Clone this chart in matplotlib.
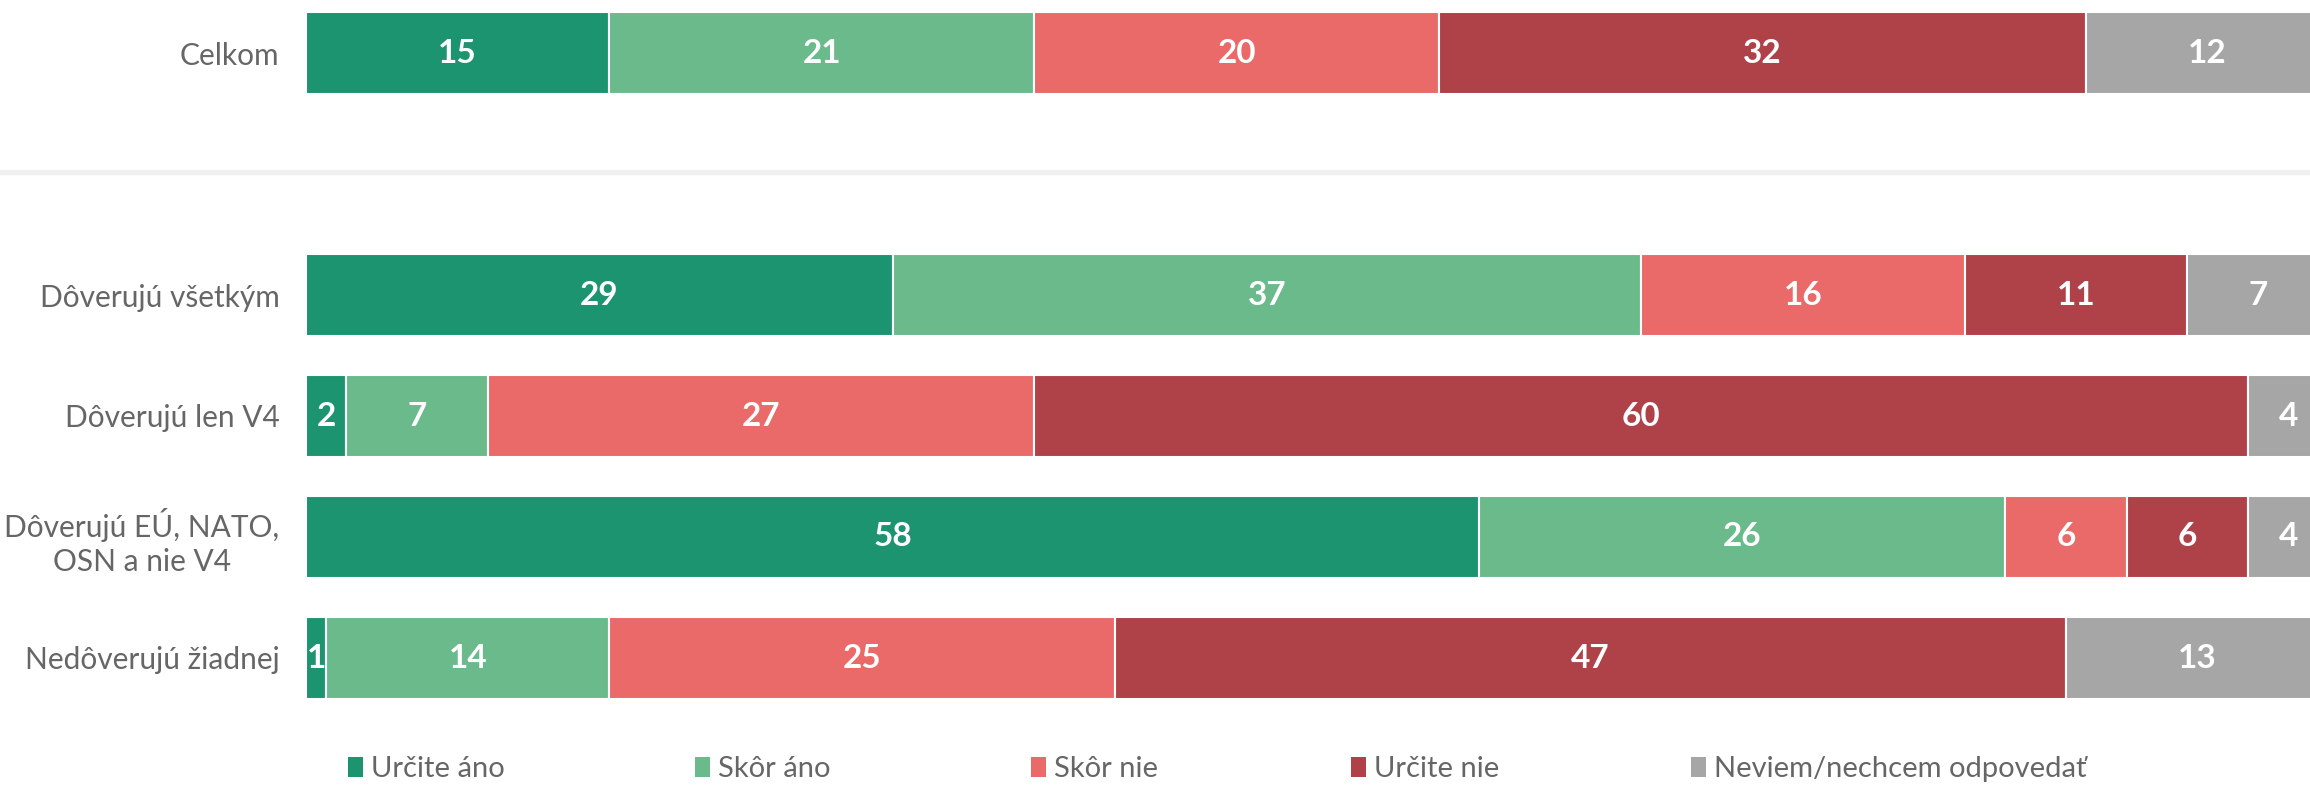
import matplotlib
matplotlib.use("Agg")
import matplotlib.pyplot as plt
from matplotlib.patches import Patch
from matplotlib.lines import Line2D
import numpy as np

plt.rcParams['font.family'] = ['Lato', 'DejaVu Sans']

categories = ["Celkom", "Dôverujú všetkým", "Dôverujú len V4",
              "Dôverujú EÚ, NATO,\nOSN a nie V4", "Nedôverujú žiadnej"]
positions = [0, 2, 3, 4, 5]
series_names = ["Určite áno", "Skôr áno", "Skôr nie", "Určite nie", "Neviem/nechcem odpovedať"]
urcite_ano = [15, 29, 2, 58, 1]
skor_ano = [21, 37, 7, 26, 14]
skor_nie = [20, 16, 27, 6, 25]
urcite_nie = [32, 11, 60, 6, 47]
neviem = [12, 7, 4, 4, 13]
colors = ["#1b946f", "#6bba8b", "#e96a69", "#af4148", "#a6a6a6"]

series = [urcite_ano, skor_ano, skor_nie, urcite_nie, neviem]

W, H = 2310, 785
fig = plt.figure(figsize=(W / 100, H / 100), dpi=100)

# axes geometry (pixels)
left_px = 306
right_px = 2329
row0_px = 53
row_step = 121
top_px = row0_px - 0.5 * row_step
bottom_px = row0_px + 5.5 * row_step
ax = fig.add_axes([left_px / W, 1 - bottom_px / H, (right_px - left_px) / W, (bottom_px - top_px) / H])
ax.set_xlim(0, 100)
ax.set_ylim(5.5, -0.5)

lefts = np.zeros(len(categories))
for vals, col, name in zip(series, colors, series_names):
    vals = np.array(vals, dtype=float)
    bars = ax.barh(positions, vals, left=lefts, height=0.675, color=col,
                   edgecolor="white", linewidth=1.5, label=name)
    for b, v in zip(bars, vals):
        ax.text(b.get_x() + b.get_width() / 2, b.get_y() + b.get_height() / 2,
                f"{int(v)}", ha="center", va="center", color="white",
                fontsize=24, fontweight="bold")
    lefts += vals

ax.set_yticks(positions)
ax.set_yticklabels(categories)
for lbl in ax.get_yticklabels():
    lbl.set_multialignment("center")
    lbl.set_linespacing(1.25)
ax.tick_params(axis="y", length=0, pad=19, labelsize=21.5, labelcolor="#666666")
ax.set_xticks([])
for s in ax.spines.values():
    s.set_visible(False)

# separator line
ysep = 1 - 172 / H
fig.add_artist(Line2D([0, 1], [ysep, ysep], transform=fig.transFigure,
                      color="#f0f0f0", linewidth=3.8))

# legend entries
leg_x = [348, 695, 1031, 1351, 1691]
leg_y = 1 - 769 / H
for name, col, lx in zip(series_names, colors, leg_x):
    fig.legend(handles=[Patch(facecolor=col, edgecolor="none")], labels=[name],
               loc="center left", bbox_to_anchor=(lx / W, leg_y),
               frameon=False, fontsize=21, labelcolor="#666666",
               handlelength=0.5, handleheight=0.7, handletextpad=0.3,
               borderpad=0, borderaxespad=0)

fig.savefig("out.png", dpi=100)
